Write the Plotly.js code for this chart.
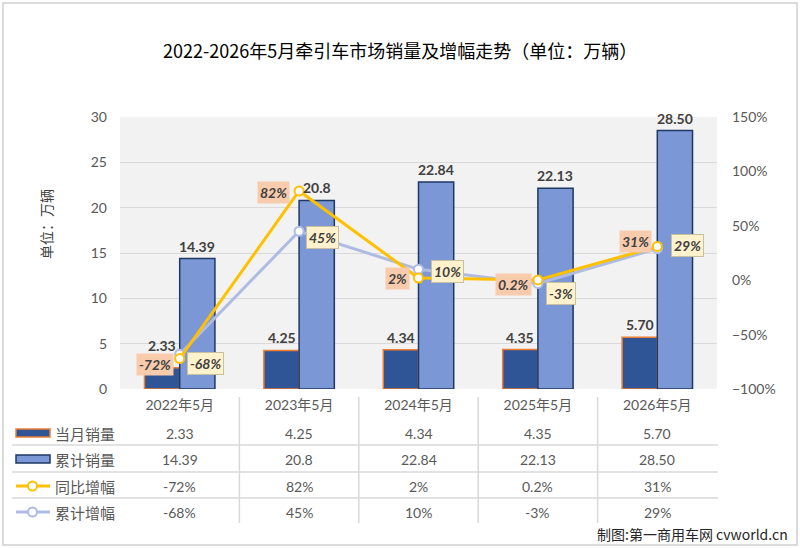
<!DOCTYPE html>
<html>
<head>
<meta charset="utf-8">
<script src="https://cdn.plot.ly/plotly-3.0.1.min.js"></script>
<style>
  html, body { margin: 0; padding: 0; background: #ffffff; }
  #chart { width: 800px; height: 548px; }
</style>
</head>
<body>
<div id="chart"></div>
<script>
// Tractor-truck sales, May of each year (unit: 10k vehicles)
const categories = ['2022年5月', '2023年5月', '2024年5月', '2025年5月', '2026年5月'];
const monthlyLabels = ['2.33', '4.25', '4.34', '4.35', '5.70'];
const cumulativeLabels = ['14.39', '20.8', '22.84', '22.13', '28.50'];
const yoyGrowth = [-72, 82, 2, 0.2, 31];
const cumulativeGrowth = [-68, 45, 10, -3, 29];
const seriesNames = ['当月销量', '累计销量', '同比增幅', '累计增幅'];

const monthlySales = monthlyLabels.map(Number);
const cumulativeSales = cumulativeLabels.map(Number);
const pct = v => v + '%';

// plot-area geometry in pixels
const W = 800, H = 548;
const M = { l: 120, r: 83, t: 117, b: 159 };
const PW = W - M.l - M.r, PH = H - M.t - M.b;
const px = x => (x - M.l) / PW;
const py = y => (H - M.b - y) / PH;

const FONT = 'Lato, "Noto Sans CJK SC", sans-serif';
const CJK = '"Noto Sans CJK SC", Lato, sans-serif';
const C = {
  monthly: '#2f5597', monthlyEdge: '#ed7d31',
  cumul: '#7b97d6', cumulEdge: '#1f3864',
  yoy: '#ffc000', cumGrowth: '#aebbe3',
  text: '#404040', tick: '#595959', grid: '#d9d9d9'
};

const traces = [
  {
    type: 'bar', name: seriesNames[0], x: categories, y: monthlySales,
    marker: { color: C.monthly, line: { color: C.monthlyEdge, width: 1.5 } },
    hoverinfo: 'skip'
  },
  {
    type: 'bar', name: seriesNames[1], x: categories, y: cumulativeSales,
    marker: { color: C.cumul, line: { color: C.cumulEdge, width: 1.5 } },
    hoverinfo: 'skip'
  },
  {
    type: 'scatter', mode: 'lines+markers', name: seriesNames[3],
    x: categories, y: cumulativeGrowth, yaxis: 'y2',
    line: { color: C.cumGrowth, width: 3 },
    marker: { size: 9, color: '#ffffff', line: { color: C.cumGrowth, width: 2 } },
    cliponaxis: false, hoverinfo: 'skip'
  },
  {
    type: 'scatter', mode: 'lines+markers', name: seriesNames[2],
    x: categories, y: yoyGrowth, yaxis: 'y2',
    line: { color: C.yoy, width: 3 },
    marker: { size: 9, color: '#ffffff', line: { color: C.yoy, width: 2 } },
    cliponaxis: false, hoverinfo: 'skip'
  }
];

const annotations = [];

// bar value labels; each bar sits half a bar-width off its category centre
const barHalf = 17.5;
const monthlyLift = [12, 2, 2, 2, 2];
const barFont = { family: FONT, size: 14, color: C.text, weight: 'bold' };
monthlySales.forEach((v, i) => annotations.push({
  x: categories[i], y: v, xref: 'x', yref: 'y', text: monthlyLabels[i],
  showarrow: false, xshift: -barHalf, yshift: monthlyLift[i], yanchor: 'bottom', font: barFont
}));
cumulativeSales.forEach((v, i) => annotations.push({
  x: categories[i], y: v, xref: 'x', yref: 'y', text: cumulativeLabels[i],
  showarrow: false, xshift: barHalf, yshift: 2, yanchor: 'bottom', font: barFont
}));

// growth labels around each marker (pixel offsets)
const yoyShift = [[-25, -6], [-26, -2], [-21, 0], [-24, -5], [-22, 5]];
const cumShift = [[26, -9], [23, -6], [29, -2], [23, -10], [30, 3]];
const labelText = { family: FONT, size: 14, color: C.text, weight: 'bold', style: 'italic' };

yoyGrowth.forEach((v, i) => annotations.push({
  x: categories[i], y: v, xref: 'x', yref: 'y2', text: pct(v),
  showarrow: false, xshift: yoyShift[i][0], yshift: yoyShift[i][1],
  font: labelText, bgcolor: '#f8cbad', borderpad: 2
}));
cumulativeGrowth.forEach((v, i) => annotations.push({
  x: categories[i], y: v, xref: 'x', yref: 'y2', text: pct(v),
  showarrow: false, xshift: cumShift[i][0], yshift: cumShift[i][1],
  font: labelText, bgcolor: '#fff2cc', bordercolor: '#c9c0a0', borderwidth: 1, borderpad: 2
}));

// title and axis caption
annotations.push({
  xref: 'paper', yref: 'paper', x: px(400), y: py(50), xanchor: 'center', yanchor: 'middle',
  text: '2022-2026年5月牵引车市场销量及增幅走势（单位：万辆）', showarrow: false,
  font: { family: CJK, size: 18, color: '#000000' }
});
annotations.push({
  xref: 'paper', yref: 'paper', x: px(46), y: py(224), xanchor: 'center', yanchor: 'middle',
  text: '单位：万辆', textangle: -90, showarrow: false,
  font: { family: CJK, size: 14, color: C.text }
});

// data table under the axis
const rowY = [433, 459, 486, 512];
const rowData = [
  monthlyLabels,
  cumulativeLabels,
  yoyGrowth.map(pct),
  cumulativeGrowth.map(pct)
];
rowData.forEach((row, r) => {
  annotations.push({
    xref: 'paper', yref: 'paper', x: px(53), y: py(rowY[r]), xanchor: 'left', yanchor: 'middle',
    text: seriesNames[r], showarrow: false, font: { family: CJK, size: 15, color: C.tick }
  });
  row.forEach((t, i) => annotations.push({
    xref: 'x', yref: 'paper', x: categories[i], y: py(rowY[r]), xanchor: 'center', yanchor: 'middle',
    text: t, showarrow: false, font: { family: FONT, size: 14, color: C.tick }
  }));
});

annotations.push({
  xref: 'paper', yref: 'paper', x: px(790), y: py(534), xanchor: 'right', yanchor: 'middle',
  text: '制图:第一商用车网 cvworld.cn', showarrow: false,
  font: { family: CJK, size: 14, color: '#262626' }
});

const shapes = [];
// outer frame
shapes.push({ type: 'rect', xref: 'paper', yref: 'paper',
  x0: px(3), x1: px(797), y0: py(545), y1: py(3),
  line: { color: '#d0d0d0', width: 1.5 }, fillcolor: 'rgba(0,0,0,0)', layer: 'below' });
// table rules
[445, 472, 498].forEach(y => shapes.push({ type: 'line', xref: 'paper', yref: 'paper',
  x0: px(12), x1: px(718), y0: py(y), y1: py(y), line: { color: C.grid, width: 1.5 } }));
[0.5, 1.5, 2.5, 3.5].forEach(x => shapes.push({ type: 'line', xref: 'x', yref: 'paper',
  x0: x, x1: x, y0: py(397), y1: py(523), line: { color: C.grid, width: 1.5 } }));
// legend keys inside the table
shapes.push({ type: 'rect', xref: 'paper', yref: 'paper', x0: px(16), x1: px(50), y0: py(437), y1: py(429),
  fillcolor: C.monthly, line: { color: C.monthlyEdge, width: 1.5 } });
shapes.push({ type: 'rect', xref: 'paper', yref: 'paper', x0: px(16), x1: px(50), y0: py(463), y1: py(455),
  fillcolor: C.cumul, line: { color: C.cumulEdge, width: 1.5 } });
[[486, C.yoy], [512, C.cumGrowth]].forEach(([y, col]) => {
  shapes.push({ type: 'line', xref: 'paper', yref: 'paper', x0: px(16), x1: px(50), y0: py(y), y1: py(y),
    line: { color: col, width: 3 } });
  shapes.push({ type: 'circle', xref: 'paper', yref: 'paper', x0: px(28), x1: px(37), y0: py(y + 4.5), y1: py(y - 4.5),
    fillcolor: '#ffffff', line: { color: col, width: 2 } });
});

const layout = {
  width: W, height: H,
  margin: M,
  paper_bgcolor: '#ffffff', plot_bgcolor: '#f2f2f2',
  showlegend: false,
  barmode: 'group', bargap: 0.41, bargroupgap: 0,
  font: { family: FONT, color: C.tick },
  xaxis: {
    type: 'category', showgrid: false, zeroline: false, showline: false, ticks: '',
    tickfont: { family: FONT, size: 14, color: C.tick }, ticklabelstandoff: 6
  },
  yaxis: {
    range: [0, 30], dtick: 5, gridcolor: C.grid, gridwidth: 1, zeroline: false,
    showline: false, ticks: '', tickfont: { family: FONT, size: 14, color: C.tick },
    ticklabelstandoff: 12
  },
  yaxis2: {
    overlaying: 'y', side: 'right', range: [-100, 150], dtick: 50, ticksuffix: '%',
    showgrid: false, zeroline: false, showline: false, ticks: '',
    tickfont: { family: FONT, size: 14, color: C.tick }, ticklabelstandoff: 14
  },
  annotations, shapes
};

Plotly.newPlot('chart', traces, layout, { displayModeBar: false, staticPlot: true });
</script>
</body>
</html>
